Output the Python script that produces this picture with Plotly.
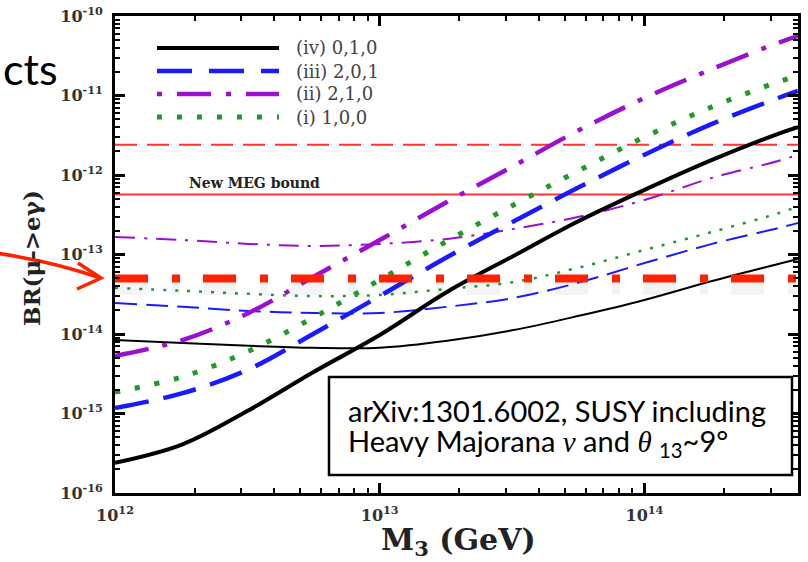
import plotly.graph_objects as go

# ---------------- data ----------------
M3 = [1.0e12, 1.8e12, 3.2e12, 5.6e12, 1.0e13, 1.8e13, 3.2e13, 5.6e13, 1.0e14, 1.8e14, 3.2e14, 3.8e14]

# thick curves
br_iv_thick = [2.4e-16, 4.1e-16, 1.1e-15, 3.3e-15, 9.7e-15, 3.4e-14, 9.6e-14, 2.6e-13, 6.5e-13, 1.55e-12, 3.3e-12, 4.0e-12]
br_iii_thick = [1.17e-15, 1.8e-15, 3.6e-15, 1.0e-14, 3.0e-14, 9.3e-14, 2.6e-13, 6.9e-13, 1.8e-12, 4.4e-12, 9.3e-12, 1.14e-11]
br_ii_thick = [5.3e-15, 8.4e-15, 1.84e-14, 5.2e-14, 1.52e-13, 4.6e-13, 1.3e-12, 3.6e-12, 9.3e-12, 2.15e-11, 4.6e-11, 5.6e-11]
br_i_thick = [1.86e-15, 2.9e-15, 6.1e-15, 1.6e-14, 4.8e-14, 1.48e-13, 4.2e-13, 1.12e-12, 3.0e-12, 7.2e-12, 1.48e-11, 1.76e-11]

# thin curves
br_iv_thin = [8.4e-15, 7.7e-15, 7.1e-15, 6.7e-15, 6.7e-15, 8.2e-15, 1.12e-14, 1.68e-14, 2.68e-14, 4.64e-14, 7.6e-14, 8.8e-14]
br_iii_thin = [2.45e-14, 2.2e-14, 1.95e-14, 1.84e-14, 1.84e-14, 2.2e-14, 2.84e-14, 4.4e-14, 7.8e-14, 1.36e-13, 2.15e-13, 2.5e-13]
br_ii_thin = [1.66e-13, 1.52e-13, 1.36e-13, 1.28e-13, 1.36e-13, 1.57e-13, 2.1e-13, 2.96e-13, 4.85e-13, 9.2e-13, 1.5e-12, 1.8e-12]
br_i_thin = [3.8e-14, 3.5e-14, 3.2e-14, 3.0e-14, 3.1e-14, 3.7e-14, 4.5e-14, 6.8e-14, 1.14e-13, 1.92e-13, 3.3e-13, 4.0e-13]

# bounds
old_meg_bound = 2.4e-12
new_meg_bound = 5.7e-13
future_sensitivity = 5.0e-14
bound_x = [1.0e12, 3.8e14]

legend_labels = ["(iv) 0,1,0", "(iii) 2,0,1", "(ii) 2,1,0", "(i) 1,0,0"]

# tick labels
x_exponents = [12, 13, 14]
y_exponents = [-16, -15, -14, -13, -12, -11, -10]
x_tickvals = [10.0 ** e for e in x_exponents]
x_ticktext = [f"10<sup>{e}</sup>" for e in x_exponents]
y_tickvals = [10.0 ** e for e in y_exponents]
y_ticktext = [f"10<sup>{e}</sup>" for e in y_exponents]
x_minor = [k * 10.0 ** e for e in x_exponents for k in range(2, 10) if k * 10.0 ** e <= 3.8e14]
y_minor = [k * 10.0 ** e for e in y_exponents[:-1] for k in range(2, 10)]

# ---------------- layout helpers (pixel -> paper) ----------------
W, H = 808, 562
L, R, T, B = 115, 10, 16, 69
PW, PH = W - L - R, H - T - B


def xp(px):
    return (px - L) / PW


def yp(py):
    return (H - B - py) / PH


SERIF = "DejaVu Serif, serif"
SANS = "Lato, Open Sans, sans-serif"

BLACK = "#000000"
BLUE = "#1a1aff"
PURPLE = "#9a10d0"
GREEN = "#1e9a2a"
RED = "#ff3333"
RED2 = "#ff2200"
DASHDOT_BIG = "33px,24px,8px,23px"

fig = go.Figure()


def add_line(y, color, width, dash):
    fig.add_trace(go.Scatter(x=M3, y=y, mode="lines", line_shape="spline",
                             line=dict(color=color, width=width, dash=dash),
                             showlegend=False, hoverinfo="skip"))


# red bounds (under curves)
fig.add_trace(go.Scatter(x=bound_x, y=[old_meg_bound] * 2, mode="lines",
                         line=dict(color=RED, width=2, dash="22px,10px"),
                         showlegend=False, hoverinfo="skip"))
fig.add_trace(go.Scatter(x=bound_x, y=[new_meg_bound] * 2, mode="lines",
                         line=dict(color=RED, width=2),
                         showlegend=False, hoverinfo="skip"))

# thin curves
add_line(br_iv_thin, BLACK, 2, "solid")
add_line(br_iii_thin, BLUE, 2, "22px,9px")
add_line(br_ii_thin, PURPLE, 2, "20px,9px,3px,9px")
add_line(br_i_thin, GREEN, 2.5, "3px,9px")

# thick curves
add_line(br_iv_thick, BLACK, 4, "solid")
add_line(br_iii_thick, BLUE, 4.5, "34px,15px")
add_line(br_ii_thick, PURPLE, 4.5, "34px,14px,5px,14px")
add_line(br_i_thick, GREEN, 5, "5px,15px")

# future sensitivity (thick red dash-dot on top)
fig.add_trace(go.Scatter(x=bound_x, y=[future_sensitivity] * 2, mode="lines",
                         line=dict(color=RED2, width=8, dash=DASHDOT_BIG),
                         showlegend=False, hoverinfo="skip"))

shapes = []
annotations = []

# soft drop shadow under the red dash-dot line (decoration)
shapes.append(dict(type="line", xref="paper", yref="paper", layer="below",
                   x0=xp(115), x1=xp(798), y0=yp(289), y1=yp(289),
                   line=dict(color="rgba(0,0,0,0.045)", width=12, dash=DASHDOT_BIG)))

# manual legend (long line samples)
leg_rows = [48, 71, 94, 117]
leg_styles = [(BLACK, 4, "solid"), (BLUE, 4.5, "35px,17px"),
              (PURPLE, 4.5, "5px,15px,34px,15px"), (GREEN, 5, "5px,15px")]
for row, (c, w, d), lab in zip(leg_rows, leg_styles, legend_labels):
    shapes.append(dict(type="line", xref="paper", yref="paper",
                       x0=xp(157), x1=xp(279), y0=yp(row), y1=yp(row),
                       line=dict(color=c, width=w, dash=d)))
    annotations.append(dict(xref="paper", yref="paper", x=xp(294), y=yp(row),
                            xanchor="left", yanchor="middle", showarrow=False,
                            text=lab, font=dict(family=SERIF, size=18, color="#444444")))

# red arrow
ax0, ay0 = xp(-4), yp(253)
acx, acy = xp(55), yp(262)
ax1, ay1 = xp(100), yp(278)
shapes.append(dict(type="path", xref="paper", yref="paper",
                   path=f"M {ax0},{ay0} Q {acx},{acy} {ax1},{ay1}",
                   line=dict(color=RED2, width=3.5)))
shapes.append(dict(type="path", xref="paper", yref="paper",
                   path=f"M {xp(78)},{yp(263)} L {xp(101)},{yp(278)} L {xp(77)},{yp(289)}",
                   line=dict(color=RED2, width=3.5)))

# citation box
shapes.append(dict(type="rect", xref="paper", yref="paper",
                   x0=xp(329), x1=xp(792), y0=yp(475), y1=yp(377),
                   fillcolor="white", line=dict(color="black", width=2.5)))
annotations.append(dict(xref="paper", yref="paper", x=xp(346), y=yp(410),
                        xanchor="left", yanchor="middle", showarrow=False,
                        text="arXiv:1301.6002, SUSY including",
                        font=dict(family=SANS, size=29, color="#000000")))
annotations.append(dict(xref="paper", yref="paper", x=xp(346), y=yp(442),
                        xanchor="left", yanchor="middle", showarrow=False,
                        text="Heavy Majorana <span style='font-family:Liberation Serif'><i>ν</i></span>"
                             " and <span style='font-family:Liberation Serif'><i>θ</i></span> <sub>13</sub>~9°",
                        font=dict(family=SANS, size=29, color="#000000")))

# texts
annotations.append(dict(xref="paper", yref="paper", x=xp(254), y=yp(183),
                        xanchor="center", yanchor="middle",
                        showarrow=False, text="<b>New MEG bound</b>",
                        font=dict(family=SERIF, size=14, color="#222222")))
annotations.append(dict(xref="paper", yref="paper", x=xp(1), y=yp(68),
                        xanchor="left", yanchor="middle", showarrow=False,
                        text="cts", font=dict(family=SANS, size=43, color="#000000")))
annotations.append(dict(xref="paper", yref="paper", x=xp(31), y=yp(258),
                        xanchor="center", yanchor="middle", showarrow=False, textangle=-90,
                        text="<b>BR(μ->eγ)</b>",
                        font=dict(family=SERIF, size=23, color="#222222")))
annotations.append(dict(xref="paper", yref="paper", x=xp(458), y=yp(541),
                        xanchor="center", yanchor="middle", showarrow=False,
                        text="<b>M<sub>3</sub> (GeV)</b>",
                        font=dict(family=SERIF, size=30, color="#222222")))

axis_common = dict(
    type="log", showgrid=False, zeroline=False, automargin=False,
    showline=True, linecolor="black", linewidth=3, mirror="allticks",
    ticks="inside", ticklen=10, tickwidth=3, tickcolor="black",
    tickmode="array",
    tickfont=dict(family=SERIF, size=16, color="#333333", weight="bold"),
)

fig.update_layout(
    width=W, height=H,
    margin=dict(l=L, r=R, t=T, b=B, autoexpand=False),
    paper_bgcolor="white", plot_bgcolor="white",
    showlegend=False,
    xaxis=dict(range=[12, 14.58], ticklabelstandoff=6, tickvals=x_tickvals, ticktext=x_ticktext,
               minor=dict(ticks="inside", ticklen=5, tickwidth=1.5, tickcolor="black",
                          tickmode="array", tickvals=x_minor, showgrid=False),
               **axis_common),
    yaxis=dict(range=[-16, -10], ticklabelstandoff=6, tickvals=y_tickvals, ticktext=y_ticktext,
               minor=dict(ticks="inside", ticklen=5, tickwidth=1.5, tickcolor="black",
                          tickmode="array", tickvals=y_minor, showgrid=False),
               **axis_common),
    shapes=shapes, annotations=annotations,
)

fig.write_html("out.html",
               config={"displayModeBar": False},
               post_script="document.body.style.margin='0px';document.body.style.overflow='hidden';")
